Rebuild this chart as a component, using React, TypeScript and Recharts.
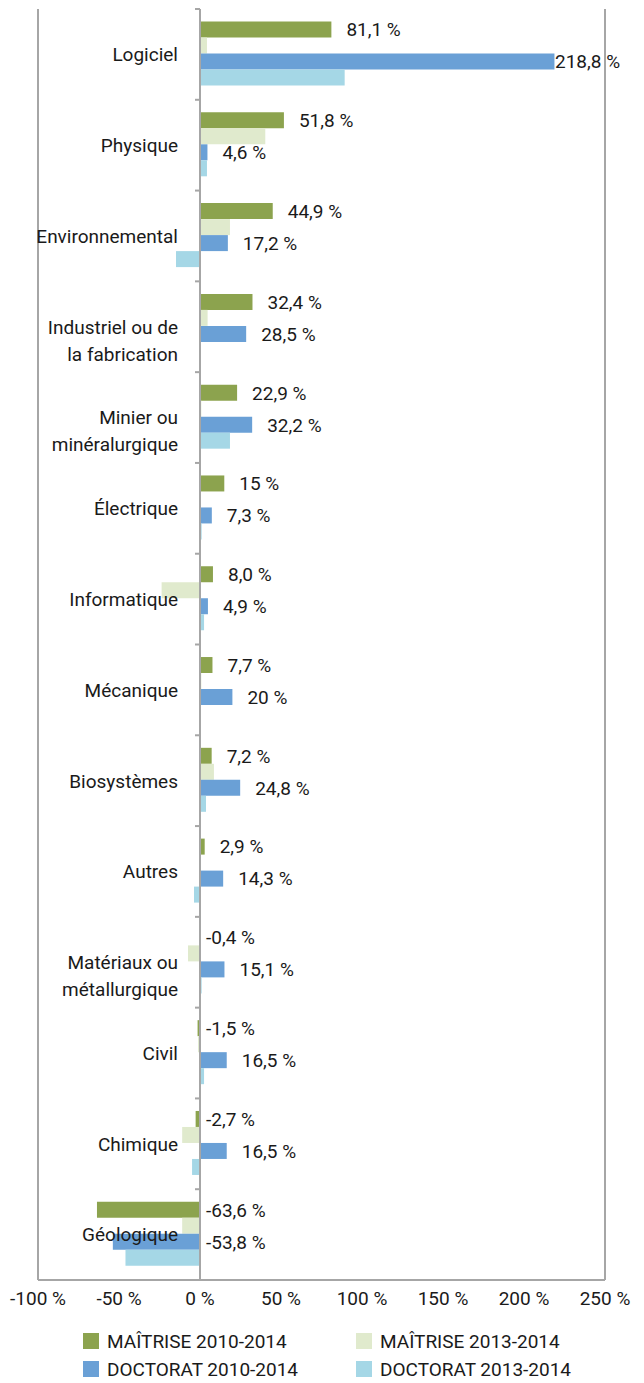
import { Bar, BarChart, LabelList, ReferenceLine, XAxis, YAxis } from "recharts";

const categories = [
    "Logiciel",
    "Physique",
    "Environnemental",
    "Industriel ou de\nla fabrication",
    "Minier ou\nminéralurgique",
    "Électrique",
    "Informatique",
    "Mécanique",
    "Biosystèmes",
    "Autres",
    "Matériaux ou\nmétallurgique",
    "Civil",
    "Chimique",
    "Géologique",
];

const maitrise2010 = [81.1, 51.8, 44.9, 32.4, 22.9, 15, 8.0, 7.7, 7.2, 2.9, -0.4, -1.5, -2.7, -63.6];
const maitrise2013 = [4.3, 40.3, 18.5, 4.7, 0.8, 0, -23.7, 0.8, 8.6, 0, -7.4, -1.2, -11, -11];
const doctorat2010 = [218.8, 4.6, 17.2, 28.5, 32.2, 7.3, 4.9, 20, 24.8, 14.3, 15.1, 16.5, 16.5, -53.8];
const doctorat2013 = [89.3, 4.3, -14.8, 0, 18.5, 1, 2.5, 0, 3.7, -3.7, 1, 2.5, -4.9, -46];

const maitrise2010Labels = ["81,1 %", "51,8 %", "44,9 %", "32,4 %", "22,9 %", "15 %", "8,0 %", "7,7 %", "7,2 %", "2,9 %", "-0,4 %", "-1,5 %", "-2,7 %", "-63,6 %"];
const doctorat2010Labels = ["218,8 %", "4,6 %", "17,2 %", "28,5 %", "32,2 %", "7,3 %", "4,9 %", "20 %", "24,8 %", "14,3 %", "15,1 %", "16,5 %", "16,5 %", "-53,8 %"];

const xTicks = [-100, -50, 0, 50, 100, 150, 200, 250];

const series = [
    { key: "m10", name: "MAÎTRISE 2010-2014", color: "#8ca34e" },
    { key: "m13", name: "MAÎTRISE 2013-2014", color: "#e0eacd" },
    { key: "d10", name: "DOCTORAT 2010-2014", color: "#6aa0d6" },
    { key: "d13", name: "DOCTORAT 2013-2014", color: "#a5d7e6" },
];

const FONT = "Roboto, 'Liberation Sans', sans-serif";
const FS = 19;
const W = 644;
const H = 1310;
const margin = { top: 9, right: 39, bottom: 0, left: 37 };
const Y_W = 1;
const X_MIN = -100;
const X_MAX = 250;
const AXIS_H = 30;
const GRAY = "#a6a6a6";

const plotLeft = margin.left + Y_W;
const plotW = W - plotLeft - margin.right;
const plotH = H - margin.top - margin.bottom - AXIS_H;
const zeroX = plotLeft + ((0 - X_MIN) / (X_MAX - X_MIN)) * plotW;
const band = plotH / categories.length;

const data = categories.map((name, i) => ({
    name,
    m10: maitrise2010[i],
    m13: maitrise2013[i],
    d10: doctorat2010[i],
    d13: doctorat2013[i],
    m10Label: maitrise2010Labels[i],
    d10Label: doctorat2010Labels[i],
}));

function renderCategoryTick(props: any) {
    const { y, payload } = props;
    const lines = String(payload.value).split("\n");
    return (
        <g>
            <line x1={zeroX - 5} x2={zeroX} y1={y - band / 2} y2={y - band / 2} stroke={GRAY} strokeWidth={2} />
            <text x={zeroX - 22} y={y} textAnchor="end" fontSize={FS} fontFamily={FONT} fill="#1a1a1a">
                {lines.map((l, i) => (
                    <tspan key={i} x={zeroX - 22} dy={i === 0 ? "0.36em" : 27}>{l}</tspan>
                ))}
            </text>
        </g>
    );
}

function ValueLabel(props: any) {
    const { x, y, width, height, value } = props;
    const right = Math.max(x, x + width);
    const neg = String(value).startsWith("-");
    const lx = Math.min(right + (neg ? 6 : 15), W - 89);
    return (
        <text x={lx} y={y + height / 2} dy="0.36em" fontSize={FS} fontFamily={FONT} fill="#1a1a1a">
            {value}
        </text>
    );
}

export default function App() {
    return (
        <div style={{ position: "absolute", left: 0, top: 0, width: W, height: 1383, background: "#fff" }}>
            <BarChart
                width={W}
                height={H}
                data={data}
                layout="vertical"
                margin={margin}
                barCategoryGap="13.8%"
                barGap={0}
            >
                <XAxis
                    type="number"
                    domain={[X_MIN, X_MAX]}
                    ticks={xTicks}
                    height={AXIS_H}
                    allowDataOverflow
                    tickFormatter={(v) => `${v} %`}
                    axisLine={{ stroke: GRAY, strokeWidth: 2 }}
                    tickLine={false}
                    tickMargin={6}
                    tick={{ fontSize: FS, fontFamily: FONT, fill: "#1a1a1a" }}
                />
                <YAxis
                    type="category"
                    dataKey="name"
                    width={Y_W}
                    axisLine={false}
                    tickLine={false}
                    interval={0}
                    tick={renderCategoryTick}
                />
                <ReferenceLine x={X_MIN} stroke={GRAY} strokeWidth={2} />
                <ReferenceLine x={X_MAX} stroke={GRAY} strokeWidth={2} />
                {series.map((s) => (
                    <Bar key={s.key} dataKey={s.key} name={s.name} fill={s.color} isAnimationActive={false}>
                        {s.key === "m10" && <LabelList dataKey="m10Label" content={<ValueLabel />} />}
                        {s.key === "d10" && <LabelList dataKey="d10Label" content={<ValueLabel />} />}
                    </Bar>
                ))}
                <ReferenceLine x={0} stroke={GRAY} strokeWidth={2} />
            </BarChart>
            <div
                style={{
                    position: "absolute",
                    left: 83,
                    top: 1327,
                    display: "grid",
                    gridTemplateColumns: "273px 273px",
                    fontFamily: FONT,
                    fontSize: FS,
                    color: "#1a1a1a",
                }}
            >
                {series.map((s) => (
                    <div key={s.key} style={{ display: "flex", alignItems: "center", height: 28 }}>
                        <span style={{ width: 16, height: 16, background: s.color, marginRight: 8, display: "inline-block" }} />
                        {s.name}
                    </div>
                ))}
            </div>
        </div>
    );
}
